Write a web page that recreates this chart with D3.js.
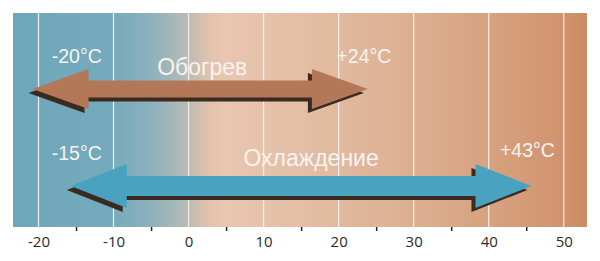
<!DOCTYPE html>
<html>
<head>
<meta charset="utf-8">
<script src="https://cdn.jsdelivr.net/npm/d3@7"></script>
<style>
  body { margin: 0; background: #fff; }
  svg { display: block; font-family: "Liberation Sans", Arial, sans-serif; }
</style>
</head>
<body>
<div id="chart"></div>
<script>
// data
const modes = ["Обогрев", "Охлаждение"];
const rangeStart = [-20.8, -15.7];
const rangeEnd = [23.9, 45.7];
const startLabels = ["-20°C", "-15°C"];
const endLabels = ["+24°C", "+43°C"];
const majorTicks = [-20, -10, 0, 10, 20, 30, 40, 50];
const minorTicks = [-15, -5, 5, 15, 25, 35, 45];

const width = 600, height = 261;
const plot = {left: 13, right: 587, top: 13, bottom: 227};

const x = d3.scaleLinear().domain([-23.4, 53.1]).range([plot.left, plot.right]);
const y = d3.scalePoint().domain(modes).range([89, 186]);

const colors = ["#b37858", "#49a2c0"];
const shaft = [8.5, 10];
const head = [20, 22];
const headLen = [56, 56];
const nameOffset = [14.5, 20];
const nameShift = [2, 10];

const svg = d3.select("#chart").append("svg")
  .attr("width", width)
  .attr("height", height);

// background temperature gradient
const grad = svg.append("defs").append("linearGradient")
  .attr("id", "bg")
  .attr("gradientUnits", "userSpaceOnUse")
  .attr("x1", plot.left).attr("x2", plot.right)
  .attr("y1", 0).attr("y2", 0);

const stops = [
  [13, "#6ea7ba"], [110, "#74aabc"], [150, "#8cb1bc"], [180, "#adb9b8"],
  [195, "#c9bdb1"], [210, "#e2c3ad"], [225, "#e9c6b0"], [320, "#e2bca2"],
  [420, "#dcae90"], [500, "#d6a07d"], [560, "#d1946e"], [587, "#cc8b62"]
];
grad.selectAll("stop").data(stops).join("stop")
  .attr("offset", d => (d[0] - plot.left) / (plot.right - plot.left))
  .attr("stop-color", d => d[1]);

svg.append("rect")
  .attr("x", plot.left).attr("y", plot.top)
  .attr("width", plot.right - plot.left)
  .attr("height", plot.bottom - plot.top)
  .attr("fill", "url(#bg)");

// grid lines
svg.selectAll(".grid").data(majorTicks).join("line")
  .attr("class", "grid")
  .attr("x1", d => x(d)).attr("x2", d => x(d))
  .attr("y1", plot.top).attr("y2", plot.bottom)
  .attr("stroke", "#f6f2ee")
  .attr("stroke-opacity", 0.9)
  .attr("stroke-width", 1.3);

// axis
const axis = svg.append("g")
  .attr("transform", `translate(0,${plot.bottom})`)
  .call(d3.axisBottom(x).tickValues(majorTicks).tickSize(0).tickPadding(9)
    .tickFormat(d => String(d)));
axis.select(".domain").remove();
axis.selectAll("text")
  .attr("font-size", 15)
  .attr("fill", "#2b2b2b")
  .attr("font-family", "\"Open Sans\", \"Liberation Sans\", sans-serif");

svg.append("g")
  .attr("transform", `translate(0,${plot.bottom})`)
  .call(d3.axisBottom(x).tickValues(minorTicks).tickSize(4).tickFormat(""))
  .call(g => g.select(".domain").remove())
  .selectAll("line").attr("stroke", "#222").attr("stroke-width", 1.5);

// arrows
function arrowPath(i) {
  const x0 = x(rangeStart[i]), x1 = x(rangeEnd[i]), cy = y(modes[i]);
  const s = shaft[i], h = head[i], L = headLen[i];
  const p = d3.path();
  p.moveTo(x0, cy);
  p.lineTo(x0 + L, cy - h);
  p.lineTo(x0 + L, cy - s);
  p.lineTo(x1 - L, cy - s);
  p.lineTo(x1 - L, cy - h);
  p.lineTo(x1, cy);
  p.lineTo(x1 - L, cy + h);
  p.lineTo(x1 - L, cy + s);
  p.lineTo(x0 + L, cy + s);
  p.lineTo(x0 + L, cy + h);
  p.closePath();
  return p.toString();
}

const arrows = svg.selectAll(".arrow").data(modes).join("g").attr("class", "arrow");
arrows.append("path")
  .attr("d", (d, i) => arrowPath(i))
  .attr("transform", "translate(-4,4)")
  .attr("fill", "#3a2a20");
arrows.append("path")
  .attr("d", (d, i) => arrowPath(i))
  .attr("fill", (d, i) => colors[i]);

// labels
const labelFill = "#f7f3f0";
arrows.append("text")
  .attr("x", (d, i) => x((rangeStart[i] + rangeEnd[i]) / 2) + nameShift[i])
  .attr("y", (d, i) => y(d) - nameOffset[i])
  .attr("text-anchor", "middle")
  .attr("font-size", 23)
  .attr("fill", labelFill)
  .text(d => d);

arrows.append("text")
  .attr("x", x(-14.9))
  .attr("y", d => y(d) - 26)
  .attr("text-anchor", "middle")
  .attr("font-size", 19.5)
  .attr("fill", labelFill)
  .text((d, i) => startLabels[i]);

arrows.append("text")
  .attr("x", (d, i) => x(rangeEnd[i]) - 4)
  .attr("y", (d, i) => y(d) - 26 - i * 3)
  .attr("text-anchor", "middle")
  .attr("font-size", 19.5)
  .attr("fill", labelFill)
  .text((d, i) => endLabels[i]);
</script>
</body>
</html>
